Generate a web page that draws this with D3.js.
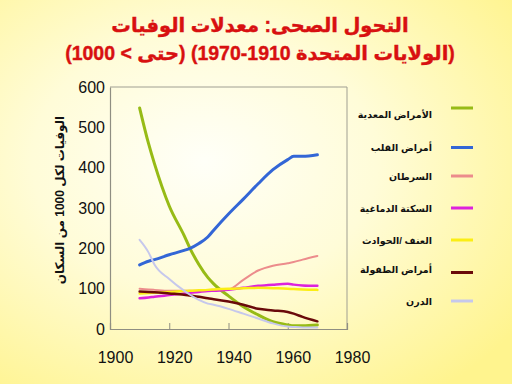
<!DOCTYPE html>
<html>
<head>
<meta charset="utf-8">
<script src="https://cdn.jsdelivr.net/npm/d3@7"></script>
<style>
  html, body { margin: 0; padding: 0; }
  body { width: 512px; height: 384px; overflow: hidden; }
</style>
</head>
<body>
<div id="chart"></div>
<script>
// Years sampled for each series
const years = [1910, 1913, 1915, 1920, 1925, 1927, 1930, 1933, 1935, 1940, 1945, 1950, 1955, 1960, 1962, 1965, 1970];

// Values per 1000 population
const infectious = [548, 460, 410, 305, 232, 200, 160, 128, 112, 82, 55, 35, 18, 10, 8, 8, 10];
const heart      = [159, 168, 172, 184, 195, 200, 212, 228, 245, 285, 322, 360, 395, 420, 428, 428, 432];
const cancer     = [100, 98, 97, 95, 95, 95, 95, 95, 96, 98, 122, 145, 157, 163, 166, 172, 181];
const stroke     = [76, 78, 80, 84, 88, 90, 92, 94, 95, 97, 102, 107, 110, 112, 110, 108, 107];
const accidents  = [88, 89, 90, 92, 94, 95, 96, 97, 98, 100, 101, 102, 101, 100, 99, 98, 97];
const childhood  = [93, 92, 91, 88, 85, 83, 80, 76, 74, 68, 60, 50, 46, 42, 38, 30, 19];
const tb         = [221, 190, 160, 124, 95, 85, 72, 63, 60, 50, 38, 26, 14, 6, 5, 4, 4];

const xTicks = [1900, 1920, 1940, 1960, 1980];
const yTicks = [0, 100, 200, 300, 400, 500, 600];

const series = [
  { label: 'الأمراض المعدية', values: infectious, color: '#97bb16', width: 3 },
  { label: 'أمراض القلب',     values: heart,      color: '#3366d6', width: 3 },
  { label: 'السرطان',         values: cancer,     color: '#ec8c8c', width: 2 },
  { label: 'السكتة الدماغية', values: stroke,     color: '#dd22dd', width: 2.5 },
  { label: 'العنف /الحوادث',  values: accidents,  color: '#fbee14', width: 2.5 },
  { label: 'أمراض الطفولة',   values: childhood,  color: '#6a0a0a', width: 2.5 },
  { label: 'الدرن',           values: tb,         color: '#c6c8ec', width: 2 },
];

const W = 512, H = 384;
const margin = { top: 87, right: 165, bottom: 55, left: 110 };
const width = 347 - margin.left;
const height = 329 - margin.top;

const svg = d3.select('#chart').append('svg')
  .attr('width', W).attr('height', H)
  .style('display', 'block');

// background gradient
const defs = svg.append('defs');
const grad = defs.append('radialGradient')
  .attr('id', 'bg').attr('cx', '40%').attr('cy', '42%').attr('r', '75%');
grad.append('stop').attr('offset', '0%').attr('stop-color', '#fffff8');
grad.append('stop').attr('offset', '45%').attr('stop-color', '#fffcd8');
grad.append('stop').attr('offset', '100%').attr('stop-color', '#fff48e');
svg.append('rect').attr('width', W).attr('height', H).attr('fill', 'url(#bg)');

const font = '"Liberation Sans", Arial, "DejaVu Sans", sans-serif';

// title
svg.append('text')
  .attr('x', 260).attr('y', 32)
  .attr('text-anchor', 'middle')
  .attr('direction', 'rtl')
  .attr('font-family', font).attr('font-weight', 'bold').attr('font-size', 19.5)
  .attr('fill', '#d81010')
  .attr('stroke', '#d81010').attr('stroke-width', 0.4)
  .text('التحول الصحى: معدلات الوفيات');
svg.append('text')
  .attr('x', 260).attr('y', 60)
  .attr('text-anchor', 'middle')
  .attr('direction', 'rtl')
  .attr('font-family', font).attr('font-weight', 'bold').attr('font-size', 19.5)
  .attr('fill', '#d81010')
  .attr('stroke', '#d81010').attr('stroke-width', 0.4)
  .text('(الولايات المتحدة 1910-1970) (حتى > 1000)');

const g = svg.append('g').attr('transform', `translate(${margin.left},${margin.top})`);

const x = d3.scaleLinear().domain([1900, 1980]).range([0, width]);
const y = d3.scaleLinear().domain([0, 600]).range([height, 0]);

// frame (top & right)
g.append('path')
  .attr('d', `M0,0H${width}V${height}`)
  .attr('fill', 'none').attr('stroke', '#a09f92').attr('stroke-width', 1);

// x axis with inward ticks
const xAxis = g.append('g')
  .attr('transform', `translate(0,${height})`)
  .call(d3.axisBottom(x).tickValues(xTicks).tickSize(-6).tickPadding(23).tickFormat(d3.format('d')));
xAxis.select('.domain').attr('stroke', '#8f8e82').attr('stroke-width', 1.2);
xAxis.selectAll('.tick line').attr('stroke', '#8f8e82')
  .attr('opacity', d => (d === 1900 || d === 1980) ? 0 : 1);
xAxis.selectAll('.tick text')
  .attr('font-family', font).attr('font-size', 16).attr('fill', '#111')
  .attr('dx', 5);

// y axis
const yAxis = g.append('g')
  .call(d3.axisLeft(y).tickValues(yTicks).tickSize(0).tickPadding(5));
yAxis.select('.domain').attr('stroke', '#8f8e82').attr('stroke-width', 1.2);
yAxis.selectAll('.tick text')
  .attr('font-family', font).attr('font-size', 16).attr('fill', '#111');

// y axis title
svg.append('text')
  .attr('transform', 'translate(64,200) rotate(-90)')
  .attr('text-anchor', 'middle')
  .attr('font-family', font).attr('font-weight', 'bold').attr('font-size', 12)
  .attr('fill', '#111')
  .text('الوفيات لكل 1000 من السكان');

// lines
const line = d3.line()
  .x((d, i) => x(years[i]))
  .y(d => y(d))
  .curve(d3.curveMonotoneX);

series.forEach(s => {
  g.append('path').datum(s.values)
    .attr('d', line)
    .attr('fill', 'none')
    .attr('stroke', s.color)
    .attr('stroke-width', s.width)
    .attr('stroke-linejoin', 'round')
    .attr('stroke-linecap', 'round');
});

// legend
const legendRows = [108, 147.5, 176, 208, 240, 272.5, 301];
series.forEach((s, i) => {
  const ly = legendRows[i];
  svg.append('line')
    .attr('x1', 451).attr('x2', 473)
    .attr('y1', ly).attr('y2', ly)
    .attr('stroke', s.color).attr('stroke-width', 3);
  svg.append('text')
    .attr('x', 432).attr('y', ly + (i === 0 ? 10 : i === 5 ? 0 : 3.5))
    .attr('text-anchor', 'end')
    .attr('font-family', font).attr('font-weight', 'bold').attr('font-size', 9.5)
    .attr('fill', '#111')
    .text(s.label);
});
</script>
</body>
</html>
